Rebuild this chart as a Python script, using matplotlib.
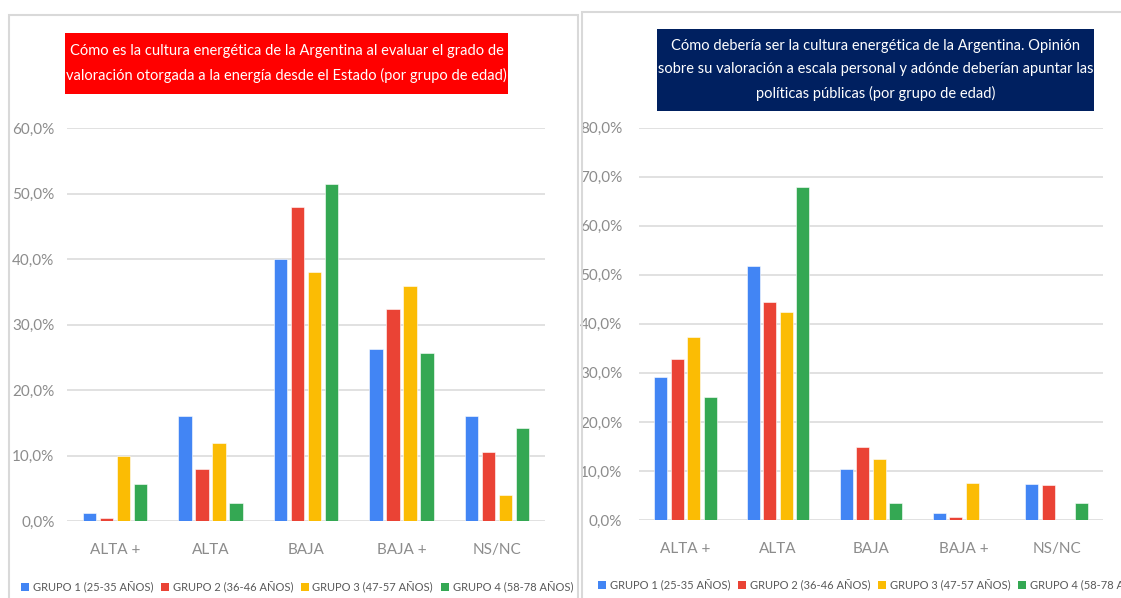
import numpy as np
import matplotlib
matplotlib.use("Agg")
import matplotlib.pyplot as plt
from matplotlib.patches import Rectangle, Patch

plt.rcParams['font.family'] = ['Lato', 'Liberation Sans', 'DejaVu Sans']

categorias = ["ALTA +", "ALTA", "BAJA", "BAJA +", "NS/NC"]
grupos = ["GRUPO 1 (25-35 AÑOS)", "GRUPO 2 (36-46 AÑOS)",
          "GRUPO 3 (47-57 AÑOS)", "GRUPO 4 (58-78 AÑOS)"]
colores = ["#4285F4", "#EA4335", "#FBBC04", "#34A853"]

# valoracion otorgada desde el Estado (fraccion)
estado_g1 = [0.012, 0.160, 0.400, 0.263, 0.160]
estado_g2 = [0.005, 0.080, 0.480, 0.324, 0.105]
estado_g3 = [0.100, 0.119, 0.380, 0.359, 0.039]
estado_g4 = [0.056, 0.027, 0.515, 0.257, 0.142]

# como deberia ser (fraccion)
deberia_g1 = [0.291, 0.517, 0.105, 0.015, 0.073]
deberia_g2 = [0.328, 0.444, 0.148, 0.006, 0.071]
deberia_g3 = [0.374, 0.425, 0.124, 0.075, 0.0]
deberia_g4 = [0.250, 0.680, 0.034, 0.0, 0.034]

titulo_izq = ("Cómo es la cultura energética de la Argentina al evaluar el grado de\n"
              "valoración otorgada a la energía desde el Estado (por grupo de edad)")
titulo_der = ("Cómo debería ser la cultura energética de la Argentina. Opinión\n"
              "sobre su valoración a escala personal y adónde deberían apuntar las\n"
              "políticas públicas (por grupo de edad)")

W, H = 1121, 598
fig = plt.figure(figsize=(W / 100, H / 100), dpi=100)
fig.patch.set_facecolor("white")


def px(x0, y0, x1, y1):
    # rectangulo en pixeles (origen arriba-izquierda) -> fraccion de figura
    return (x0 / W, 1 - y1 / H, (x1 - x0) / W, (y1 - y0) / H)


# marcos de cada panel
for (x0, y0, x1, y1) in [(9, 15, 578, 610), (582, 12, 1130, 610)]:
    l, b, w, h = px(x0, y0, x1, y1)
    fig.patches.append(Rectangle((l, b), w, h, transform=fig.transFigure,
                                 facecolor="none", edgecolor="#d9d9d9", lw=1.5, zorder=0))


def panel(rect, series, ymax, ypad):
    ax = fig.add_axes(rect)
    x = np.arange(len(categorias))
    paso, ancho = 0.178, 0.14
    for i, (vals, c) in enumerate(zip(series, colores)):
        ax.bar(x + (i - 1.5) * paso, vals, ancho, color=c, label=grupos[i],
               edgecolor="white", linewidth=0.4, zorder=3)
    ax.set_xlim(-0.5, len(categorias) - 0.5)
    ax.set_ylim(0, ymax)
    ticks = np.arange(0, ymax + 0.001, 0.1)
    ax.set_yticks(ticks)
    ax.set_yticklabels([f"{t * 100:.1f}%".replace(".", ",") for t in ticks])
    ax.set_xticks(x)
    ax.set_xticklabels(categorias)
    ax.tick_params(axis="both", length=0, labelsize=11, labelcolor="#8c8c8c")
    ax.tick_params(axis="y", pad=ypad)
    ax.tick_params(axis="x", pad=16)
    ax.yaxis.grid(True, color="#dcdcdc", lw=1.2)
    ax.set_axisbelow(True)
    for s in ax.spines.values():
        s.set_visible(False)
    ax.set_facecolor("none")
    return ax


panel(px(67, 128, 545, 521), [estado_g1, estado_g2, estado_g3, estado_g4], 0.6, 9)
panel(px(639, 127.7, 1103, 520), [deberia_g1, deberia_g2, deberia_g3, deberia_g4], 0.8, 12)

# cajas de titulo
for (x0, y0, x1, y1), fondo, texto in [((65, 33, 508, 94), "#FF0000", titulo_izq),
                                       ((657, 29, 1094, 111), "#002060", titulo_der)]:
    l, b, w, h = px(x0, y0, x1, y1)
    fig.patches.append(Rectangle((l, b), w, h, transform=fig.transFigure,
                                 facecolor=fondo, edgecolor="none", zorder=1))
    fig.text(l + w / 2, b + h / 2, texto, ha="center", va="center", color="white",
             fontsize=10.5, linespacing=1.85, zorder=2)

handles = [Patch(facecolor=c, edgecolor="none") for c in colores]
leg_kw = dict(ncol=4, frameon=False, fontsize=8, handlelength=0.75, handleheight=0.75,
              handletextpad=0.3, columnspacing=0.7, borderpad=0, borderaxespad=0,
              labelcolor="#595959")
fig.legend(handles, grupos, loc="center", bbox_to_anchor=(297 / W, 1 - 587 / H), **leg_kw)
fig.legend(handles, grupos, loc="center left", bbox_to_anchor=(598 / W, 1 - 585 / H), **leg_kw)

fig.savefig("out.png", dpi=100)
